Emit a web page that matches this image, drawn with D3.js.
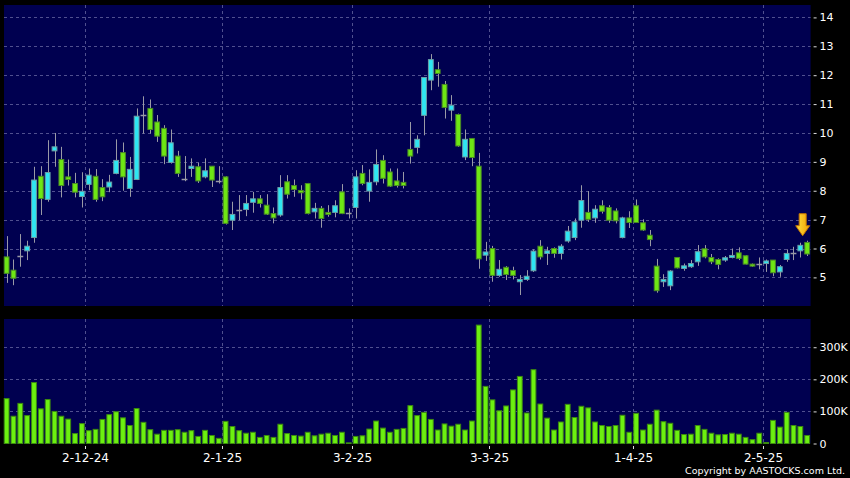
<!DOCTYPE html>
<html><head><meta charset="utf-8">
<script src="https://cdn.jsdelivr.net/npm/d3@7/dist/d3.min.js"></script>
<style>html,body{margin:0;padding:0;background:#000;}svg{display:block;}</style>
</head><body>
<svg id="c" width="850" height="478"></svg>
<script>
// ---- data ----
const dates = [
"15-11-24","18-11-24","19-11-24","20-11-24","21-11-24","22-11-24","25-11-24","26-11-24","27-11-24","28-11-24","29-11-24",
"2-12-24","3-12-24","4-12-24","5-12-24","6-12-24","9-12-24","10-12-24","11-12-24","12-12-24","13-12-24","16-12-24","17-12-24","18-12-24","19-12-24","20-12-24","23-12-24","24-12-24","27-12-24","30-12-24","31-12-24",
"2-1-25","3-1-25","6-1-25","7-1-25","8-1-25","9-1-25","10-1-25","13-1-25","14-1-25","15-1-25","16-1-25","17-1-25","20-1-25","21-1-25","22-1-25","23-1-25","24-1-25","27-1-25","28-1-25",
"3-2-25","4-2-25","5-2-25","6-2-25","7-2-25","10-2-25","11-2-25","12-2-25","13-2-25","14-2-25","17-2-25","18-2-25","19-2-25","20-2-25","21-2-25","24-2-25","25-2-25","26-2-25","27-2-25","28-2-25",
"3-3-25","4-3-25","5-3-25","6-3-25","7-3-25","10-3-25","11-3-25","12-3-25","13-3-25","14-3-25","17-3-25","18-3-25","19-3-25","20-3-25","21-3-25","24-3-25","25-3-25","26-3-25","27-3-25","28-3-25","31-3-25",
"1-4-25","2-4-25","3-4-25","7-4-25","8-4-25","9-4-25","10-4-25","11-4-25","14-4-25","15-4-25","16-4-25","17-4-25","22-4-25","23-4-25","24-4-25","25-4-25","28-4-25","29-4-25","30-4-25",
"2-5-25","6-5-25","7-5-25","8-5-25","9-5-25","12-5-25","13-5-25","14-5-25"];
const open = [5.71,5.25,5.74,5.92,6.38,8.50,7.70,9.38,9.08,8.48,8.25,7.80,8.22,8.50,8.11,8.13,8.60,9.32,8.08,8.39,
10.62,10.85,10.38,10.16,8.98,9.20,8.40,8.77,8.83,8.48,8.85,8.33,8.48,6.98,7.33,7.35,7.60,7.72,7.50,7.21,
7.16,8.31,8.18,8.01,8.25,7.27,7.39,7.25,7.25,7.96,7.24,7.42,8.60,7.99,8.31,9.05,8.65,8.34,8.29,9.43,
9.50,10.61,11.83,12.19,11.68,10.79,10.64,9.17,9.81,8.85,5.77,6.00,5.07,5.35,5.24,4.85,4.93,5.23,6.08,5.83,
6.00,5.83,6.26,6.38,6.98,7.25,7.06,7.48,7.42,7.30,6.38,7.06,7.48,6.89,6.46,5.39,4.85,4.71,5.69,5.31,
5.37,5.54,5.99,5.69,5.62,5.60,5.69,5.85,5.75,5.46,5.48,5.48,5.60,5.19,5.62,5.83,5.92,6.21];
const high = [6.43,5.62,6.50,6.27,8.83,8.85,9.75,10.00,9.52,9.08,8.62,8.64,8.77,8.75,8.40,8.55,9.78,9.67,9.17,10.85,
11.27,11.16,10.62,10.27,10.12,9.38,9.20,9.12,8.97,9.12,8.85,8.85,8.50,7.62,7.85,7.85,7.96,7.85,7.88,7.42,
8.54,8.54,8.39,8.19,8.27,7.58,7.47,7.50,7.67,8.23,7.39,8.71,8.89,8.74,9.43,9.23,8.77,8.77,8.65,10.38,
9.92,11.92,12.73,12.46,11.80,11.31,10.67,10.12,9.81,9.31,6.23,6.09,5.60,5.39,5.37,5.08,5.25,5.97,6.29,6.06,
6.04,6.15,6.78,7.04,8.19,7.99,7.50,7.67,7.50,7.39,7.10,7.29,7.70,7.01,6.64,5.64,5.11,5.25,5.69,5.48,
5.60,6.12,6.12,5.81,5.66,5.74,6.00,6.04,5.77,5.48,5.69,5.62,5.60,5.43,5.97,6.06,6.20,6.27];
const low = [4.81,4.73,5.37,5.60,6.20,7.16,7.62,8.83,7.77,8.18,7.77,7.42,8.02,7.62,7.64,7.95,8.57,8.00,7.79,8.37,
9.98,9.98,9.69,8.92,8.94,8.48,8.33,8.48,8.27,8.43,8.13,8.25,6.83,6.64,6.98,7.12,7.24,7.42,7.16,6.87,
7.10,7.73,7.79,7.70,7.18,7.04,6.72,7.10,7.08,7.19,7.04,7.04,8.19,7.62,8.19,8.25,8.13,8.11,8.08,8.94,
9.29,9.92,11.48,11.60,10.50,10.42,9.52,9.06,8.85,5.30,5.57,4.85,5.02,4.91,4.93,4.39,4.88,5.19,5.62,5.43,
5.68,5.62,6.20,6.29,6.72,6.92,6.89,7.21,6.89,6.87,6.35,6.71,6.89,6.61,6.08,4.47,4.67,4.56,5.31,5.23,
5.33,5.40,5.66,5.46,5.28,5.54,5.66,5.60,5.45,5.37,5.28,5.19,5.04,5.02,5.54,5.60,5.69,5.74];
const close = [5.14,4.97,5.74,6.08,8.37,7.73,8.63,9.52,8.18,8.39,7.95,7.98,8.54,7.70,7.79,8.30,9.05,8.48,8.74,10.58,
10.62,10.12,9.89,9.20,9.66,8.60,8.40,8.85,8.34,8.69,8.37,8.33,6.87,7.18,7.33,7.56,7.72,7.56,7.19,7.06,
8.11,7.88,8.04,7.93,7.21,7.39,7.04,7.18,7.48,7.21,7.24,8.48,8.25,8.29,8.91,8.43,8.16,8.18,8.18,9.20,
9.78,11.92,12.54,12.06,10.88,10.96,9.55,9.78,9.15,5.64,5.88,5.07,5.28,5.10,5.07,4.93,5.04,5.91,5.71,5.92,
5.83,6.08,6.60,6.92,7.66,7.01,7.36,7.29,6.98,6.96,7.06,6.90,6.90,6.64,6.31,4.54,4.93,5.22,5.33,5.40,
5.48,5.89,5.71,5.54,5.45,5.68,5.76,5.66,5.46,5.39,5.48,5.57,5.16,5.37,5.83,5.83,6.11,5.81];
const volume = [140,85,125,87,190,108,137,100,85,76,31,62,40,44,75,90,99,80,56,109,
66,43,29,41,41,43,35,40,22,41,25,16,69,53,40,32,35,19,25,19,
60,31,25,23,35,24,29,32,25,35,2,22,24,45,70,48,35,44,47,118,
87,97,75,42,61,54,60,42,70,369,178,136,102,117,167,209,95,230,123,79,
42,67,122,81,116,111,67,56,53,56,88,35,94,42,60,104,68,63,41,28,
29,56,44,32,27,28,32,29,19,12,32,3,72,51,97,56,53,25].map(v => v * 1000);
const xTickLabels = ["2-12-24","2-1-25","3-2-25","3-3-25","1-4-25","2-5-25"];
const priceTicks = [5,6,7,8,9,10,11,12,13,14];
const volumeTicks = [0,100000,200000,300000];

// ---- layout ----
const svg = d3.select("#c");
const L = 3.2, R = 810.6;
const P = {top:5, bottom:306};
const V = {top:319, bottom:443.5};
const navy = "#000050", gridCol = "#50508f";
const upFill = "#2ee6f2", upStroke = "#6c9ea6";
const dnFill = "#6ee614", dnStroke = "#4a8a26";
const wickCol = "#9a9aa6";

svg.append("rect").attr("width",850).attr("height",478).attr("fill","#000");

const x = d3.scaleBand().domain(dates).range([L, R]).paddingInner(0.15).paddingOuter(0.075);
const step = x.step();
const cx = d => x(d) + x.bandwidth()/2;
const gridX = d => Math.round(x(d) + step*0.925) + 0.5; // right edge of the slot

const y = d3.scaleLinear().domain([4.01, 14.43]).range([P.bottom, P.top]);
const yv = d3.scaleLinear().domain([0, 388000]).range([V.bottom, V.top]);

// panels
svg.append("rect").attr("x",4).attr("y",P.top).attr("width",R-4).attr("height",P.bottom-P.top).attr("fill",navy);
svg.append("rect").attr("x",4).attr("y",V.top).attr("width",R-4).attr("height",V.bottom-V.top).attr("fill",navy);

// grid
const gridG = svg.append("g").attr("stroke",gridCol).attr("stroke-dasharray","3,3").attr("stroke-width",1);
priceTicks.forEach(t => gridG.append("line").attr("x1",4).attr("x2",R).attr("y1",Math.round(y(t))+0.5).attr("y2",Math.round(y(t))+0.5));
volumeTicks.filter(t=>t>0).forEach(t => gridG.append("line").attr("x1",4).attr("x2",R).attr("y1",Math.round(yv(t))+0.5).attr("y2",Math.round(yv(t))+0.5));
xTickLabels.forEach(lbl => {
  const gxp = gridX(lbl);
  gridG.append("line").attr("x1",gxp).attr("x2",gxp).attr("y1",P.top).attr("y2",P.bottom);
  gridG.append("line").attr("x1",gxp).attr("x2",gxp).attr("y1",V.top).attr("y2",V.bottom);
});

// candles
const data = dates.map((d,i)=>({d, o:open[i], h:high[i], l:low[i], c:close[i], v:volume[i]}));
const cg = svg.append("g");
cg.selectAll("line.w").data(data).join("line")
  .attr("x1", d=>Math.round(cx(d.d))+0.5).attr("x2", d=>Math.round(cx(d.d))+0.5)
  .attr("y1", d=>y(d.h)).attr("y2", d=>y(d.l))
  .attr("stroke", wickCol).attr("stroke-width",1);
const bw = x.bandwidth();
cg.selectAll("rect.b").data(data.filter(d=>d.o!==d.c)).join("rect")
  .attr("x", d=>cx(d.d)-bw/2+0.5).attr("width", bw-1)
  .attr("y", d=>y(Math.max(d.o,d.c))).attr("height", d=>Math.max(1, y(Math.min(d.o,d.c))-y(Math.max(d.o,d.c))))
  .attr("fill", d=> d.c>d.o ? upFill : dnFill)
  .attr("stroke", d=> d.c>d.o ? upStroke : dnStroke).attr("stroke-width",1);
cg.selectAll("line.doji").data(data.filter(d=>d.o===d.c)).join("line")
  .attr("x1", d=>cx(d.d)-bw/2).attr("x2", d=>cx(d.d)+bw/2)
  .attr("y1", d=>Math.round(y(d.o))+0.5).attr("y2", d=>Math.round(y(d.o))+0.5)
  .attr("stroke", wickCol).attr("stroke-width",1.5);

// volume bars
svg.append("g").selectAll("rect").data(data).join("rect")
  .attr("x", d=>cx(d.d)-bw/2+0.5).attr("width", bw-1)
  .attr("y", d=>yv(d.v)).attr("height", d=>Math.max(0.5, V.bottom-yv(d.v)))
  .attr("fill","#6cf010").attr("stroke","#3c8a10").attr("stroke-width",1);

// arrow above last candle
const defs = svg.append("defs");
const grad = defs.append("linearGradient").attr("id","ag").attr("x1",0).attr("x2",1).attr("y1",0).attr("y2",0);
grad.append("stop").attr("offset","0%").attr("stop-color","#ffe040");
grad.append("stop").attr("offset","100%").attr("stop-color","#f0a000");
const last = data[data.length-1];
const ax = cx(last.d) - 4.5, ay = y(last.h) - 5;
svg.append("path")
  .attr("d", `M${ax},${ay} L${ax-7},${ay-10} L${ax-3.5},${ay-10} L${ax-3.5},${ay-22} L${ax+3.5},${ay-22} L${ax+3.5},${ay-10} L${ax+7},${ay-10} Z`)
  .attr("fill","url(#ag)").attr("stroke","#c87800").attr("stroke-width",1);

// axes text
const font = "DejaVu Sans, Verdana, sans-serif";
const yAx = svg.append("g").attr("transform",`translate(${R+3},0)`)
  .call(d3.axisRight(y).tickValues(priceTicks).tickSize(3).tickPadding(3).tickFormat(d3.format("d")));
const yvAx = svg.append("g").attr("transform",`translate(${R+3},0)`)
  .call(d3.axisRight(yv).tickValues(volumeTicks).tickSize(3).tickPadding(3).tickFormat(d => d===0 ? "0" : (d/1000)+"K"));
[yAx, yvAx].forEach(g => {
  g.select(".domain").remove();
  g.selectAll("line").attr("stroke","#ddd");
  g.selectAll("text").attr("fill","#fff").attr("font-family",font).attr("font-size",11);
});

const xg = svg.append("g");
xTickLabels.forEach(lbl => {
  const gxp = gridX(lbl);
  xg.append("line").attr("x1",gxp).attr("x2",gxp).attr("y1",446).attr("y2",449).attr("stroke","#ddd");
  xg.append("text").attr("x",gxp).attr("y",462).attr("text-anchor","middle")
    .attr("fill","#fff").attr("font-family",font).attr("font-size",12).text(lbl);
});

svg.append("text").attr("x",845).attr("y",473.5).attr("text-anchor","end")
  .attr("fill","#fff").attr("font-family",font).attr("font-size",9.5)
  .text("Copyright by AASTOCKS.com Ltd.");
</script>
</body></html>
